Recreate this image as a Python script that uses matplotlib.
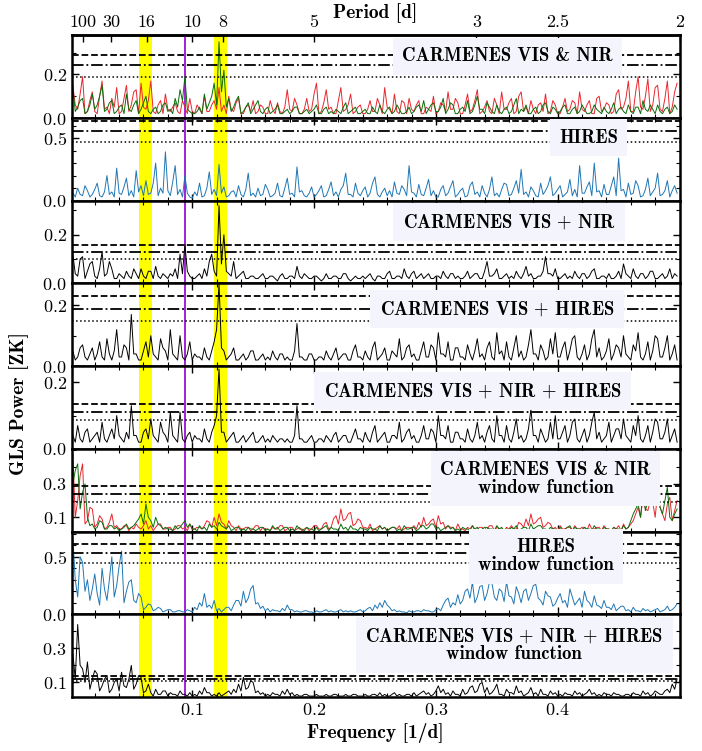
import matplotlib
matplotlib.use("Agg")
import matplotlib.pyplot as plt
import numpy as np
from matplotlib.ticker import FixedLocator, MultipleLocator

plt.rcParams['font.family'] = 'cmr10'
plt.rcParams['mathtext.fontset'] = 'cm'
plt.rcParams['axes.formatter.use_mathtext'] = True

# frequency range covered by the periodograms [1/d]
f_lo, f_hi = 0.002, 0.498

# GLS power in units of 0.01 (step 0.002 1/d)
vis_nir_red = [15, 6, 4, 11, 19, 2, 3, 8, 12, 3, 2, 10, 17, 4, 5, 2, 9, 5, 14, 2,
               3, 9, 15, 3, 6, 12, 13, 2, 16, 5, 4, 8, 17, 3, 2, 6, 8, 2, 11, 4,
               3, 5, 7, 3, 2, 8, 5, 2, 9, 3, 2, 6, 4, 2, 10, 3, 3, 6, 8, 4,
               14, 3, 6, 2, 10, 4, 3, 7, 9, 2, 2, 5, 6, 3, 8, 2, 3, 6, 5, 2,
               2, 8, 4, 2, 7, 3, 2, 5, 13, 4, 3, 9, 6, 2, 2, 4, 9, 3, 4, 11,
               16, 2, 3, 7, 13, 4, 5, 2, 2, 8, 14, 3, 4, 6, 11, 2, 3, 5, 6, 2,
               2, 4, 8, 3, 3, 9, 6, 2, 14, 5, 4, 2, 11, 3, 2, 8, 7, 2, 9, 4,
               3, 6, 8, 2, 2, 5, 4, 3, 10, 2, 3, 7, 6, 3, 12, 4, 4, 9, 7, 2,
               2, 6, 11, 3, 4, 8, 13, 2, 3, 5, 8, 3, 2, 9, 6, 2, 12, 4, 4, 7,
               9, 2, 3, 10, 12, 3, 5, 2, 8, 4, 2, 6, 7, 3, 11, 2, 3, 8, 6, 2,
               2, 5, 9, 3, 4, 8, 7, 2, 12, 4, 3, 6, 8, 2, 2, 9, 10, 3, 4, 7,
               6, 2, 3, 11, 13, 4, 5, 9, 17, 3, 3, 12, 19, 5, 4, 10, 18, 3, 6, 14,
               15, 4, 3, 9, 17, 2, 5, 12, 16]
vis_nir_green = [14, 3, 5, 8, 9, 2, 3, 6, 11, 4, 6, 10, 15, 3, 4, 7, 8, 2, 3, 5,
                 6, 2, 11, 4, 3, 6, 8, 2, 4, 7, 10, 3, 2, 4, 5, 2, 3, 6, 7, 3,
                 4, 2, 9, 5, 13, 8, 19, 4, 3, 2, 2, 3, 5, 2, 11, 4, 7, 10, 16, 6,
                 35, 12, 22, 5, 9, 3, 5, 8, 10, 2, 3, 5, 7, 2, 4, 6, 8, 3, 2, 4,
                 5, 2, 3, 4, 6, 2, 2, 3, 4, 2, 3, 5, 5, 2, 2, 3, 4, 2, 3, 4,
                 6, 2, 2, 4, 5, 2, 3, 2, 4, 3, 2, 5, 7, 2, 3, 4, 5, 2, 2, 3,
                 4, 2, 2, 5, 3, 2, 6, 3, 2, 4, 5, 2, 3, 6, 4, 2, 2, 3, 5, 2,
                 3, 5, 6, 3, 8, 2, 4, 6, 7, 3, 3, 5, 9, 2, 4, 7, 6, 2, 2, 4,
                 5, 3, 8, 2, 3, 6, 10, 4, 4, 2, 7, 5, 3, 2, 6, 3, 2, 4, 5, 2,
                 3, 6, 9, 2, 4, 3, 6, 2, 2, 4, 5, 2, 3, 6, 7, 3, 2, 5, 4, 2,
                 3, 5, 6, 2, 2, 4, 5, 2, 3, 6, 4, 2, 2, 3, 6, 4, 3, 2, 5, 3,
                 2, 4, 7, 2, 4, 5, 3, 2, 6, 3, 2, 5, 5, 2, 8, 4, 3, 6, 4, 2,
                 6, 3, 2, 4, 5, 2, 3, 6, 4]
hires = [6, 3, 10, 5, 4, 12, 8, 3, 5, 9, 14, 4, 3, 7, 20, 5, 7, 3, 26, 6,
         5, 11, 18, 4, 8, 3, 24, 7, 12, 4, 16, 5, 6, 14, 30, 4, 10, 6, 39, 8,
         4, 15, 28, 5, 9, 3, 20, 6, 3, 2, 7, 4, 14, 3, 4, 10, 23, 5, 9, 4,
         29, 6, 11, 3, 4, 7, 8, 3, 12, 5, 3, 9, 22, 4, 6, 3, 10, 4, 5, 13,
         9, 3, 4, 6, 14, 4, 3, 10, 18, 5, 6, 3, 27, 7, 8, 4, 3, 6, 11, 3,
         5, 8, 12, 3, 4, 9, 15, 4, 7, 3, 9, 12, 22, 5, 5, 3, 14, 6, 4, 8,
         11, 3, 6, 14, 19, 5, 3, 7, 10, 4, 8, 3, 15, 6, 5, 12, 9, 4, 28, 7,
         6, 3, 13, 5, 4, 10, 17, 4, 8, 3, 3, 9, 12, 4, 6, 11, 16, 3, 5, 8,
         10, 3, 4, 12, 15, 5, 7, 3, 12, 6, 3, 9, 19, 4, 6, 3, 9, 14, 13, 4,
         5, 10, 16, 6, 25, 5, 7, 3, 11, 8, 4, 3, 14, 5, 8, 12, 19, 4, 6, 9,
         12, 3, 5, 7, 17, 4, 9, 3, 28, 6, 6, 11, 15, 4, 30, 7, 8, 3, 13, 5,
         5, 12, 19, 4, 34, 8, 9, 3, 14, 5, 6, 16, 12, 3, 4, 9, 18, 4, 7, 10,
         22, 4, 5, 8, 16, 3, 8, 12, 6]
vis_plus_nir = [12, 4, 3, 10, 11, 2, 5, 8, 9, 3, 2, 6, 13, 3, 4, 9, 6, 2, 2, 4,
                3, 2, 5, 3, 2, 6, 4, 2, 6, 3, 2, 5, 5, 2, 7, 3, 2, 4, 3, 2,
                4, 3, 6, 2, 12, 4, 16, 5, 3, 2, 2, 3, 4, 2, 6, 3, 9, 12, 5, 3,
                32, 8, 20, 5, 4, 3, 9, 2, 3, 4, 5, 2, 2, 3, 3, 2, 2, 3, 4, 2,
                2, 3, 3, 2, 1, 3, 4, 2, 2, 3, 3, 2, 7, 3, 2, 4, 3, 2, 2, 3,
                3, 2, 1, 2, 4, 2, 2, 3, 3, 2, 2, 4, 4, 2, 1, 2, 3, 2, 2, 3,
                2, 3, 4, 2, 1, 3, 3, 2, 2, 4, 5, 2, 2, 3, 3, 2, 6, 3, 2, 4,
                5, 2, 3, 4, 2, 3, 4, 2, 2, 3, 3, 2, 5, 3, 2, 4, 4, 2, 3, 2,
                2, 3, 5, 2, 3, 4, 4, 2, 2, 5, 9, 3, 3, 4, 6, 2, 2, 3, 4, 2,
                3, 2, 5, 3, 2, 4, 7, 3, 4, 2, 2, 3, 3, 5, 11, 4, 4, 3, 6, 2,
                2, 3, 4, 2, 3, 2, 5, 3, 2, 4, 4, 2, 3, 5, 6, 2, 2, 3, 3, 2,
                4, 2, 2, 3, 5, 2, 8, 4, 3, 2, 6, 3, 2, 4, 4, 2, 3, 5, 5, 2,
                2, 3, 4, 2, 3, 6, 2, 4, 3]
vis_plus_hires = [5, 2, 3, 6, 7, 3, 2, 4, 6, 2, 4, 8, 3, 2, 9, 4, 2, 5, 12, 3,
                  3, 7, 6, 2, 17, 4, 4, 2, 2, 5, 8, 3, 10, 4, 3, 2, 9, 6, 5, 2,
                  12, 4, 3, 2, 10, 3, 2, 4, 8, 2, 4, 3, 3, 2, 6, 3, 2, 5, 8, 12,
                  27, 6, 5, 2, 3, 4, 6, 2, 2, 3, 4, 2, 3, 5, 5, 2, 2, 3, 4, 2,
                  3, 2, 5, 3, 2, 4, 4, 2, 3, 2, 2, 5, 14, 3, 3, 2, 2, 4, 4, 2,
                  2, 3, 3, 2, 5, 3, 2, 4, 6, 2, 3, 4, 4, 2, 2, 5, 7, 3, 3, 2,
                  5, 3, 2, 6, 8, 2, 3, 4, 6, 2, 2, 5, 4, 3, 9, 2, 3, 6, 7, 3,
                  4, 2, 2, 5, 8, 3, 3, 7, 6, 2, 11, 4, 4, 3, 8, 2, 2, 6, 6, 3,
                  3, 2, 7, 4, 2, 5, 9, 3, 4, 2, 6, 8, 3, 2, 11, 4, 5, 2, 8, 3,
                  2, 6, 10, 3, 5, 2, 3, 7, 12, 4, 4, 2, 7, 5, 2, 3, 9, 4, 11, 3,
                  3, 6, 8, 2, 5, 9, 10, 3, 2, 4, 7, 2, 4, 9, 12, 3, 6, 2, 3, 5,
                  9, 2, 4, 7, 6, 3, 10, 4, 3, 2, 7, 5, 11, 3, 2, 4, 8, 2, 5, 10,
                  9, 3, 3, 6, 10, 2, 4, 7, 2]
all_three = [4, 2, 7, 3, 2, 5, 6, 2, 3, 4, 5, 2, 8, 3, 2, 4, 6, 3, 10, 4,
             3, 2, 5, 3, 13, 4, 4, 2, 2, 5, 6, 3, 9, 4, 3, 2, 8, 5, 4, 2,
             11, 4, 3, 2, 11, 3, 2, 4, 5, 2, 4, 3, 3, 2, 6, 3, 2, 5, 7, 10,
             24, 5, 5, 2, 3, 4, 5, 2, 2, 3, 4, 2, 3, 4, 5, 2, 2, 3, 4, 2,
             3, 2, 4, 3, 2, 3, 3, 2, 3, 2, 2, 4, 13, 3, 3, 2, 2, 3, 4, 2,
             2, 3, 3, 2, 4, 3, 2, 4, 5, 2, 3, 4, 4, 2, 2, 4, 6, 3, 3, 2,
             5, 3, 2, 5, 7, 2, 3, 4, 5, 2, 2, 4, 4, 3, 8, 2, 3, 5, 6, 3,
             4, 2, 2, 4, 7, 3, 3, 6, 5, 2, 10, 4, 4, 3, 7, 2, 2, 5, 5, 3,
             3, 2, 6, 3, 2, 4, 8, 3, 4, 2, 5, 7, 3, 2, 10, 4, 4, 2, 7, 3,
             2, 5, 9, 3, 4, 2, 3, 6, 12, 4, 4, 2, 6, 4, 2, 3, 8, 3, 10, 3,
             3, 5, 7, 2, 4, 8, 9, 3, 2, 4, 6, 2, 4, 8, 11, 3, 5, 2, 3, 4,
             8, 2, 4, 6, 6, 3, 9, 4, 3, 2, 7, 4, 10, 3, 2, 4, 7, 2, 5, 9,
             8, 3, 3, 5, 9, 2, 4, 6, 2]
wf_vis_nir_red = [48, 10, 20, 35, 42, 6, 8, 16, 15, 4, 6, 11, 9, 3, 4, 7, 12, 4, 5, 3,
                  3, 5, 5, 2, 4, 3, 6, 4, 3, 5, 8, 3, 5, 2, 4, 6, 6, 3, 3, 4,
                  4, 2, 3, 5, 5, 3, 4, 2, 6, 3, 3, 4, 4, 3, 5, 8, 7, 4, 10, 5,
                  12, 7, 6, 3, 8, 5, 4, 2, 5, 3, 3, 4, 4, 2, 3, 5, 5, 2, 4, 3,
                  3, 2, 4, 3, 3, 5, 5, 2, 3, 4, 4, 2, 3, 4, 2, 3, 4, 2, 3, 5,
                  5, 3, 3, 6, 7, 3, 4, 9, 11, 6, 15, 8, 9, 12, 13, 5, 6, 9, 8, 4,
                  4, 3, 6, 2, 3, 4, 5, 3, 4, 2, 3, 4, 4, 3, 5, 2, 3, 4, 4, 3,
                  5, 3, 7, 4, 10, 5, 6, 8, 9, 4, 11, 6, 7, 3, 5, 4, 4, 2, 6, 3,
                  3, 2, 4, 3, 5, 2, 3, 4, 4, 2, 3, 5, 5, 2, 4, 3, 3, 2, 4, 3,
                  5, 3, 3, 7, 6, 4, 9, 5, 12, 6, 7, 9, 10, 4, 5, 7, 6, 3, 4, 2,
                  5, 3, 3, 4, 4, 2, 5, 3, 3, 4, 4, 2, 6, 3, 3, 4, 4, 2, 5, 3,
                  3, 2, 4, 3, 5, 2, 6, 3, 4, 6, 8, 12, 16, 10, 22, 15, 14, 20, 19, 10,
                  25, 16, 12, 8, 18, 22, 8, 14, 20]
wf_vis_nir_green = [30, 38, 42, 15, 25, 30, 10, 5, 6, 3, 4, 8, 7, 3, 3, 5, 5, 3, 4, 2,
                    3, 4, 6, 3, 4, 5, 7, 9, 12, 6, 18, 10, 8, 4, 10, 6, 5, 3, 4, 3,
                    3, 2, 5, 3, 4, 6, 8, 4, 6, 3, 3, 2, 5, 3, 4, 2, 6, 4, 5, 3,
                    7, 5, 4, 3, 5, 2, 3, 4, 4, 2, 3, 2, 4, 3, 3, 2, 3, 4, 4, 2,
                    3, 2, 5, 3, 4, 2, 3, 4, 4, 2, 3, 2, 5, 3, 3, 2, 4, 3, 3, 2,
                    4, 2, 3, 4, 5, 2, 4, 3, 3, 2, 6, 3, 4, 2, 5, 3, 3, 2, 4, 3,
                    3, 2, 4, 3, 3, 2, 5, 3, 4, 2, 3, 4, 4, 2, 3, 2, 5, 3, 3, 4,
                    4, 2, 3, 5, 5, 3, 4, 6, 6, 3, 4, 2, 3, 4, 5, 3, 4, 2, 3, 2,
                    4, 3, 3, 2, 5, 3, 4, 2, 3, 4, 4, 3, 3, 2, 5, 3, 4, 2, 3, 2,
                    4, 3, 5, 2, 3, 4, 4, 2, 6, 3, 4, 5, 5, 3, 3, 2, 4, 3, 3, 2,
                    4, 2, 3, 4, 5, 2, 4, 3, 3, 2, 4, 3, 3, 2, 5, 3, 3, 2, 4, 3,
                    3, 2, 4, 3, 3, 2, 5, 3, 4, 8, 12, 15, 18, 10, 25, 14, 20, 28, 30, 18,
                    22, 16, 12, 20, 28, 10, 8, 12, 15]
wf_hires = [67, 30, 15, 50, 45, 20, 30, 12, 22, 35, 18, 8, 40, 22, 12, 30, 50, 15, 25, 42,
            55, 10, 20, 28, 30, 12, 10, 18, 15, 4, 6, 9, 8, 3, 4, 6, 5, 2, 3, 4,
            4, 2, 2, 3, 3, 2, 2, 4, 3, 2, 6, 4, 10, 7, 18, 6, 8, 5, 12, 3,
            5, 2, 4, 6, 6, 3, 8, 12, 12, 7, 20, 10, 14, 22, 25, 9, 10, 5, 7, 3,
            5, 2, 4, 3, 3, 2, 5, 3, 8, 4, 4, 2, 3, 2, 2, 3, 3, 2, 2, 1,
            3, 2, 2, 3, 4, 2, 3, 2, 2, 3, 4, 2, 3, 2, 3, 2, 2, 3, 4, 2,
            3, 5, 6, 3, 8, 5, 10, 6, 12, 8, 6, 3, 4, 2, 3, 2, 2, 1, 3, 2,
            2, 3, 3, 2, 4, 3, 3, 2, 2, 4, 5, 3, 8, 12, 14, 6, 10, 8, 17, 9,
            12, 20, 22, 14, 28, 10, 15, 24, 25, 12, 18, 28, 27, 15, 12, 22, 20, 11, 28, 16,
            15, 9, 24, 18, 10, 20, 22, 12, 18, 25, 26, 14, 12, 8, 20, 16, 15, 7, 9, 14,
            18, 10, 12, 6, 22, 15, 8, 11, 14, 6, 20, 12, 10, 6, 16, 8, 7, 5, 12, 6,
            6, 4, 9, 3, 5, 7, 7, 3, 4, 2, 6, 3, 3, 2, 5, 3, 4, 2, 3, 4,
            5, 2, 3, 4, 7, 3, 4, 6, 9]
wf_all = [27, 12, 44, 20, 18, 10, 22, 6, 12, 17, 15, 5, 8, 12, 14, 4, 6, 10, 12, 5,
          16, 8, 7, 12, 20, 6, 9, 14, 13, 4, 5, 9, 4, 2, 6, 3, 3, 5, 5, 2,
          4, 3, 3, 2, 5, 3, 3, 2, 4, 2, 3, 2, 5, 3, 7, 4, 4, 2, 3, 2,
          4, 2, 3, 4, 5, 3, 6, 4, 9, 5, 13, 6, 7, 11, 10, 4, 5, 3, 4, 2,
          3, 2, 4, 3, 3, 2, 5, 3, 6, 3, 4, 2, 3, 2, 2, 3, 3, 2, 2, 2,
          3, 2, 2, 2, 3, 2, 2, 3, 3, 2, 2, 2, 3, 2, 2, 3, 3, 2, 2, 2,
          3, 2, 2, 3, 3, 2, 4, 2, 3, 2, 2, 3, 4, 2, 3, 2, 2, 3, 3, 2,
          4, 2, 3, 4, 5, 3, 4, 2, 3, 5, 8, 4, 6, 3, 4, 2, 5, 3, 3, 2,
          6, 3, 4, 7, 8, 4, 5, 9, 10, 4, 7, 3, 4, 6, 9, 3, 3, 2, 6, 4,
          4, 3, 8, 4, 5, 2, 3, 4, 7, 3, 4, 2, 6, 3, 3, 2, 5, 3, 4, 2,
          3, 2, 4, 3, 3, 2, 5, 3, 4, 2, 3, 4, 6, 3, 4, 2, 3, 2, 4, 3,
          3, 2, 4, 3, 3, 2, 2, 3, 3, 2, 4, 3, 3, 2, 5, 3, 4, 2, 3, 5,
          4, 3, 3, 5, 6, 4, 9, 6, 12]

# false-alarm levels (10%, 1%, 0.1%) per panel
fap_levels = [(0.19, 0.243, 0.29), (0.466, 0.559, 0.633), (0.101, 0.130, 0.158),
              (0.147, 0.188, 0.229), (0.086, 0.111, 0.135), (0.19, 0.24, 0.286),
              (0.446, 0.536, 0.611), (0.106, 0.121, 0.14)]

panel_labels = ['CARMENES VIS & NIR', 'HIRES', r'CARMENES VIS $+$ NIR',
                r'CARMENES VIS $+$ HIRES', r'CARMENES VIS $+$ NIR $+$ HIRES',
                'CARMENES VIS & NIR\nwindow function', 'HIRES\nwindow function',
                'CARMENES VIS $+$ NIR $+$ HIRES\nwindow function']

period_ticks = [100, 30, 16, 10, 8, 5, 3, 2.5, 2]
period_labels = ['100', '30', '16', '10', '8', '5', '3', '2.5', '2']

signal_bands = [(0.0566, 0.0669), (0.1177, 0.1285)]
purple_freq = 0.0938

series = [[(vis_nir_red, '#e8262e'), (vis_nir_green, '#0a6e0a')],
          [(hires, '#1f77b4')],
          [(vis_plus_nir, 'k')],
          [(vis_plus_hires, 'k')],
          [(all_three, 'k')],
          [(wf_vis_nir_red, '#e8262e'), (wf_vis_nir_green, '#0a6e0a')],
          [(wf_hires, '#1f77b4')],
          [(wf_all, 'k')]]

ylims = [(0, 0.38), (0, 0.66), (0, 0.34), (0, 0.272), (0, 0.249),
         (0.015, 0.51), (0, 0.72), (0.015, 0.50)]
ymajor = [[0, 0.2], [0, 0.5], [0, 0.2], [0, 0.2], [0, 0.2], [0.1, 0.3], [0, 0.5], [0.1, 0.3]]
box_pos = [(0.717, 0.745), (0.85, 0.76), (0.72, 0.745), (0.70, 0.69), (0.66, 0.70),
           (0.78, 0.64), (0.78, 0.70), (0.728, 0.63)]

fig = plt.figure(figsize=(7.02, 7.51), dpi=100)
axes = fig.subplots(8, 1, sharex=True)
fig.subplots_adjust(left=0.102, right=0.968, top=0.953, bottom=0.072, hspace=0)

for i, ax in enumerate(axes):
    for lo, hi in signal_bands:
        ax.axvspan(lo, hi, color='#ffff00', lw=0, zorder=0)
    ax.axvline(purple_freq, color='#9b0fd0', lw=1.3, zorder=1)
    for vals, col in series[i]:
        freq = np.linspace(f_lo, f_hi, len(vals))
        ax.plot(freq, np.array(vals) * 0.01, color=col, lw=0.7, zorder=2)
    lvl = fap_levels[i]
    ax.axhline(lvl[0], color='k', ls=':', lw=1.1, zorder=3)
    ax.axhline(lvl[1], color='k', ls='-.', lw=1.3, zorder=3)
    ax.axhline(lvl[2], color='k', ls='--', lw=1.3, zorder=3)
    ax.set_xlim(0.001, 0.5)
    ax.set_ylim(*ylims[i])
    ax.yaxis.set_major_locator(FixedLocator(ymajor[i]))
    ax.yaxis.set_minor_locator(MultipleLocator(0.1))
    ax.xaxis.set_major_locator(MultipleLocator(0.1))
    ax.xaxis.set_minor_locator(MultipleLocator(0.02))
    ax.tick_params(which='both', direction='in', right=True, top=(i > 0), labelsize=13)
    ax.tick_params(which='major', length=5, width=1)
    ax.tick_params(which='minor', length=3, width=0.8)
    for sp in ax.spines.values():
        sp.set_linewidth(1.8)
    bx, by = box_pos[i]
    ax.text(bx, by, panel_labels[i], transform=ax.transAxes, ha='center', va='center',
            fontsize=13.5, family='cmb10', linespacing=1.0, zorder=5,
            bbox=dict(boxstyle='square,pad=0.5', fc='#f4f5fc', ec='none'))

axes[-1].set_xticks([0.1, 0.2, 0.3, 0.4])
axes[-1].set_xlabel('Frequency [1/d]', fontsize=14, family='cmb10', labelpad=4)

secax = axes[0].secondary_xaxis('top')
secax.set_xticks(1.0 / np.array(period_ticks), labels=period_labels)
secax.tick_params(direction='in', length=5, width=1, labelsize=13, pad=4)
secax.spines['top'].set_linewidth(1.8)
fig.text(0.535, 0.982, 'Period [d]', ha='center', va='center', fontsize=14, family='cmb10')

fig.text(0.027, 0.463, 'GLS Power [ZK]', rotation=90, ha='center', va='center',
         fontsize=14, family='cmb10')

fig.savefig('out.png', dpi=100)
